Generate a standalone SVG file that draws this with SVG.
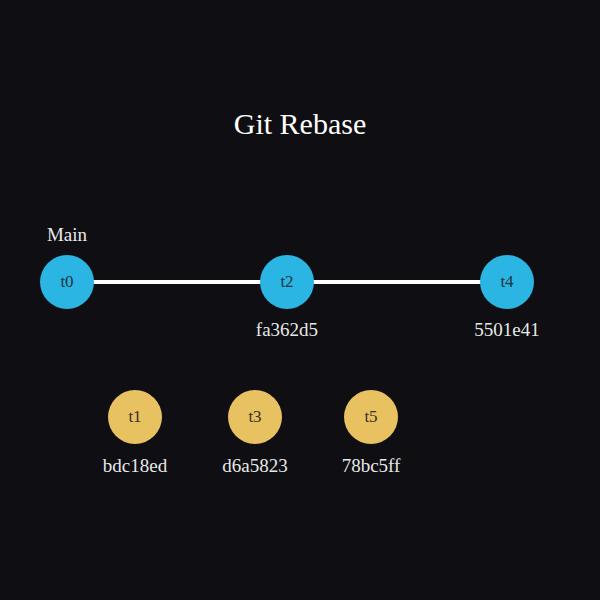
<svg xmlns="http://www.w3.org/2000/svg" width="600" height="600" viewBox="0 0 600 600">
<style>
.bg{fill:#0f0e12}
.main{fill:#2bb5e3}
.feat{fill:#e8c161}
.nt{font-family:"Liberation Serif",serif;font-size:17px;fill:#1f3340;text-anchor:middle}
.ft{font-family:"Liberation Serif",serif;font-size:17px;fill:#3a3020;text-anchor:middle}
.lbl{font-family:"Liberation Serif",serif;font-size:19px;fill:#e8e8e8;text-anchor:middle}
.title{font-family:"Liberation Serif",serif;font-size:30px;fill:#ffffff;text-anchor:middle}
.edge{stroke:#ffffff;stroke-width:4;fill:none}
</style>
<rect class="bg" width="600" height="600"/>
<text class="title" x="300" y="134">Git Rebase</text>
<text class="lbl" x="67" y="241">Main</text>
<g id="connectors">
<line class="edge" x1="67" y1="282" x2="287" y2="282"/>
<line class="edge" x1="287" y1="282" x2="507" y2="282"/>
</g>
<g id="t0"><circle class="main" cx="67" cy="282" r="27"/><text class="nt" x="67" y="287">t0</text></g>
<g id="t2"><circle class="main" cx="287" cy="282" r="27"/><text class="nt" x="287" y="287">t2</text><text class="lbl" x="287" y="336">fa362d5</text></g>
<g id="t4"><circle class="main" cx="507" cy="282" r="27"/><text class="nt" x="507" y="287">t4</text><text class="lbl" x="507" y="336">5501e41</text></g>
<g id="t1"><circle class="feat" cx="135" cy="417" r="27"/><text class="ft" x="135" y="422">t1</text><text class="lbl" x="135" y="472">bdc18ed</text></g>
<g id="t3"><circle class="feat" cx="255" cy="417" r="27"/><text class="ft" x="255" y="422">t3</text><text class="lbl" x="255" y="472">d6a5823</text></g>
<g id="t5"><circle class="feat" cx="371" cy="417" r="27"/><text class="ft" x="371" y="422">t5</text><text class="lbl" x="371" y="472">78bc5ff</text></g>
</svg>
